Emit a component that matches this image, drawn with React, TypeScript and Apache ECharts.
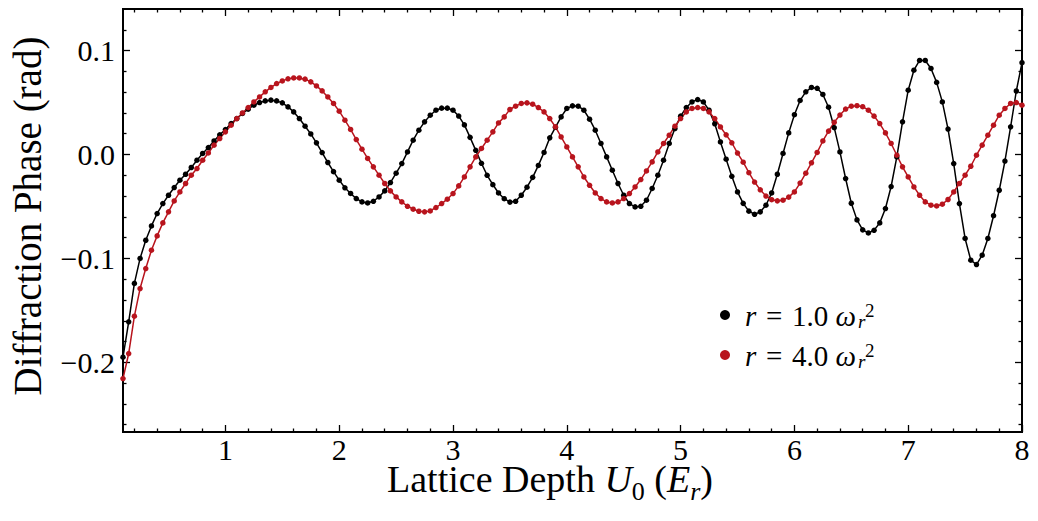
import { useEffect, useRef } from "react";
import * as echarts from "echarts";

// Lattice depth U0 (in units of E_r), sampled every 0.05
const depth = [
  0.1, 0.15, 0.2, 0.25, 0.3, 0.35, 0.4, 0.45, 0.5, 0.55,
  0.6, 0.65, 0.7, 0.75, 0.8, 0.85, 0.9, 0.95, 1.0, 1.05,
  1.1, 1.15, 1.2, 1.25, 1.3, 1.35, 1.4, 1.45, 1.5, 1.55,
  1.6, 1.65, 1.7, 1.75, 1.8, 1.85, 1.9, 1.95, 2.0, 2.05,
  2.1, 2.15, 2.2, 2.25, 2.3, 2.35, 2.4, 2.45, 2.5, 2.55,
  2.6, 2.65, 2.7, 2.75, 2.8, 2.85, 2.9, 2.95, 3.0, 3.05,
  3.1, 3.15, 3.2, 3.25, 3.3, 3.35, 3.4, 3.45, 3.5, 3.55,
  3.6, 3.65, 3.7, 3.75, 3.8, 3.85, 3.9, 3.95, 4.0, 4.05,
  4.1, 4.15, 4.2, 4.25, 4.3, 4.35, 4.4, 4.45, 4.5, 4.55,
  4.6, 4.65, 4.7, 4.75, 4.8, 4.85, 4.9, 4.95, 5.0, 5.05,
  5.1, 5.15, 5.2, 5.25, 5.3, 5.35, 5.4, 5.45, 5.5, 5.55,
  5.6, 5.65, 5.7, 5.75, 5.8, 5.85, 5.9, 5.95, 6.0, 6.05,
  6.1, 6.15, 6.2, 6.25, 6.3, 6.35, 6.4, 6.45, 6.5, 6.55,
  6.6, 6.65, 6.7, 6.75, 6.8, 6.85, 6.9, 6.95, 7.0, 7.05,
  7.1, 7.15, 7.2, 7.25, 7.3, 7.35, 7.4, 7.45, 7.5, 7.55,
  7.6, 7.65, 7.7, 7.75, 7.8, 7.85, 7.9, 7.95, 8.0,
];

// Diffraction phase (rad) for r = 1.0 ω_r²
const phaseR1 = [
  -0.195, -0.161, -0.124, -0.1, -0.0825, -0.0687, -0.0568, -0.0472, -0.0392, -0.0318,
  -0.0247, -0.019, -0.0125, -0.0055, 0.001, 0.0067, 0.013, 0.0189, 0.024, 0.0298,
  0.0346, 0.0395, 0.0436, 0.0474, 0.05, 0.0516, 0.0523, 0.0516, 0.0497, 0.0458,
  0.041, 0.0346, 0.0272, 0.0198, 0.0112, 0.0019, -0.0077, -0.0165, -0.0247, -0.032,
  -0.0375, -0.0424, -0.0456, -0.0466, -0.045, -0.0408, -0.035, -0.027, -0.018, -0.0087,
  0.0025, 0.0138, 0.0234, 0.0314, 0.0378, 0.0426, 0.0446, 0.0446, 0.0426, 0.037,
  0.0285, 0.0165, 0.004, -0.0085, -0.02, -0.029, -0.037, -0.0425, -0.0458, -0.045,
  -0.0392, -0.0315, -0.022, -0.0105, 0.002, 0.016, 0.0262, 0.0362, 0.0443, 0.0468,
  0.0465, 0.0426, 0.034, 0.0234, 0.0106, -0.0023, -0.0151, -0.0279, -0.0392, -0.0472,
  -0.0504, -0.0498, -0.044, -0.0327, -0.0199, -0.0055, 0.0106, 0.025, 0.0369, 0.0452,
  0.0506, 0.0529, 0.0506, 0.0426, 0.0295, 0.0121, -0.0045, -0.021, -0.036, -0.047,
  -0.0545, -0.0575, -0.0552, -0.0488, -0.037, -0.019, 0.001, 0.0208, 0.0383, 0.052,
  0.0603, 0.0645, 0.0637, 0.0578, 0.0455, 0.0258, 0.0025, -0.0231, -0.0469, -0.0629,
  -0.0725, -0.0755, -0.0729, -0.0658, -0.052, -0.0308, -0.0023, 0.0314, 0.0619, 0.0811,
  0.0905, 0.0905, 0.0828, 0.0694, 0.0506, 0.0245, -0.0087, -0.0472, -0.0808, -0.1017,
  -0.1059, -0.0969, -0.0808, -0.0589, -0.0344, -0.0063, 0.0266, 0.0611, 0.0884,
];

// Diffraction phase (rad) for r = 4.0 ω_r²
const phaseR4 = [
  -0.2156, -0.1915, -0.1556, -0.129, -0.1097, -0.0921, -0.0783, -0.0658, -0.0552, -0.0447,
  -0.036, -0.0279, -0.0199, -0.0135, -0.0055, 0.0015, 0.009, 0.0154, 0.0218, 0.0282,
  0.0346, 0.04, 0.0452, 0.0506, 0.0554, 0.0603, 0.0645, 0.0683, 0.0708, 0.0728,
  0.0737, 0.0737, 0.0725, 0.0699, 0.066, 0.0612, 0.0554, 0.0491, 0.0417, 0.033,
  0.0241, 0.0144, 0.0051, -0.0038, -0.0119, -0.0199, -0.0279, -0.035, -0.0408, -0.0456,
  -0.0498, -0.0526, -0.0546, -0.0552, -0.0543, -0.051, -0.0472, -0.043, -0.0376, -0.0302,
  -0.0216, -0.0119, -0.0023, 0.0058, 0.0138, 0.0218, 0.0304, 0.0362, 0.0433, 0.0465,
  0.0491, 0.0497, 0.0484, 0.0452, 0.041, 0.0346, 0.0266, 0.0169, 0.0073, -0.0023,
  -0.0119, -0.0216, -0.0296, -0.037, -0.0424, -0.0456, -0.0466, -0.0456, -0.0424, -0.0376,
  -0.0312, -0.0241, -0.0158, -0.0071, 0.0025, 0.0106, 0.0186, 0.0272, 0.0346, 0.041,
  0.0443, 0.0452, 0.0443, 0.041, 0.0346, 0.0265, 0.0189, 0.0113, 0.0014, -0.0074,
  -0.0175, -0.0265, -0.034, -0.04, -0.0435, -0.0446, -0.044, -0.041, -0.036, -0.0275,
  -0.018, -0.008, 0.002, 0.013, 0.0225, 0.031, 0.038, 0.0437, 0.0465, 0.047,
  0.046, 0.0426, 0.0369, 0.0298, 0.0208, 0.0106, -0.0007, -0.0119, -0.0216, -0.0312,
  -0.0392, -0.0456, -0.0488, -0.0495, -0.0478, -0.0433, -0.036, -0.0279, -0.0199, -0.0113,
  -0.0007, 0.009, 0.0186, 0.0282, 0.0378, 0.0443, 0.0491, 0.05, 0.0474,
];

const rateLabels = ["1.0", "4.0"];
const seriesColors = ["#000000", "#b8141d"];

const xMajorTicks = [1, 2, 3, 4, 5, 6, 7, 8];
const xMinorTicks = [
  0.2, 0.4, 0.6, 0.8, 1.2, 1.4, 1.6, 1.8, 2.2, 2.4, 2.6, 2.8, 3.2, 3.4, 3.6, 3.8,
  4.2, 4.4, 4.6, 4.8, 5.2, 5.4, 5.6, 5.8, 6.2, 6.4, 6.6, 6.8, 7.2, 7.4, 7.6, 7.8,
];
const yMajorTicks = [-0.2, -0.1, 0, 0.1];
const yMinorTicks = [
  -0.26, -0.24, -0.22, -0.18, -0.16, -0.14, -0.12, -0.08, -0.06, -0.04, -0.02,
  0.02, 0.04, 0.06, 0.08, 0.12,
];

const X_MIN = 0.1;
const X_MAX = 8;
const Y_MIN = -0.267;
const Y_MAX = 0.14;

const FAMILY = "Liberation Serif";
const SERIF = "'Liberation Serif', 'Times New Roman', serif";
const tickLine = { color: "#000", width: 1.3 };
// distance from the alphabetic baseline up to the SVG "central" baseline, in em
const CENTRAL = 0.3375;

function tickAxis(
  position: string,
  min: number,
  max: number,
  values: number[],
  length: number,
  label?: any
) {
  return {
    type: "value",
    position,
    min,
    max,
    axisLine: { show: false, onZero: false },
    splitLine: { show: false },
    axisTick: { show: true, inside: true, length, lineStyle: tickLine, customValues: values },
    axisLabel: label
      ? { show: true, customValues: values, ...label }
      : { show: false },
  };
}

const formatPhase = (v: number) =>
  v === 0 ? "0.0" : (v < 0 ? "\u2212" : "") + Math.abs(v).toFixed(1);

const alignStyle = (h: string, v: string) => ({
  align: h,
  verticalAlign: v,
  textAlign: h,
  textVerticalAlign: v,
});

type Piece = { text: string; size: number; italic?: boolean; drop?: number };

// Lays out a run of differently sized pieces on one baseline, centred at cx.
function mathLine(pieces: Piece[], cx: number, baseline: number) {
  const ctx = document.createElement("canvas").getContext("2d")!;
  const widths = pieces.map((p) => {
    ctx.font = `${p.italic ? "italic " : ""}${p.size}px "${FAMILY}"`;
    return ctx.measureText(p.text).width;
  });
  const total = widths.reduce((a, b) => a + b, 0);
  let x = cx - total / 2;
  return pieces.map((p, k) => {
    const el = {
      type: "text",
      x,
      y: baseline + (p.drop || 0) - CENTRAL * p.size,
      style: {
        text: p.text,
        fontFamily: SERIF,
        fontSize: p.size,
        fontStyle: p.italic ? "italic" : "normal",
        lineHeight: p.size * 0.8,
        fill: "#000",
        ...alignStyle("left", "middle"),
      },
    };
    x += widths[k];
    return el;
  });
}

export default function App() {
  const ref = useRef<HTMLDivElement>(null);

  useEffect(() => {
    const chart = echarts.init(ref.current!, null, { renderer: "svg" });

    const labelStyle = { fontFamily: SERIF, fontSize: 30, color: "#000" };

    const legendGraphics: any[] = [];
    rateLabels.forEach((rate, i) => {
      const cy = 315 + i * 40;
      const base = cy + 11;
      legendGraphics.push(
        {
          type: "circle",
          shape: { cx: 725, cy, r: 5 },
          style: { fill: seriesColors[i] },
        },
        {
          type: "text",
          x: 856,
          y: base - CENTRAL * 29,
          style: {
            text: `{i|r}\u2004=\u2004${rate} {i|\u03c9}`,
            fontFamily: SERIF,
            fontSize: 29,
            lineHeight: 26,
            fill: "#000",
            ...alignStyle("right", "middle"),
            rich: { i: { fontFamily: SERIF, fontSize: 29, fontStyle: "italic", lineHeight: 26 } },
          },
        },
        {
          type: "text",
          x: 858,
          y: base + 2 - CENTRAL * 19,
          style: {
            text: "r",
            fontFamily: SERIF,
            fontSize: 19,
            fontStyle: "italic",
            lineHeight: 10,
            fill: "#000",
            ...alignStyle("left", "middle"),
          },
        },
        {
          type: "text",
          x: 865,
          y: base - 9 - CENTRAL * 19,
          style: {
            text: "2",
            fontFamily: SERIF,
            fontSize: 19,
            lineHeight: 10,
            fill: "#000",
            ...alignStyle("left", "middle"),
          },
        }
      );
    });

    const xTitle = mathLine(
      [
        { text: "Lattice Depth ", size: 38 },
        { text: "U", size: 38, italic: true },
        { text: "0", size: 26, drop: 8 },
        { text: " (", size: 38 },
        { text: "E", size: 38, italic: true },
        { text: "r", size: 26, italic: true, drop: 8 },
        { text: ")", size: 38 },
      ],
      550,
      492
    );

    const option: any = {
      animation: false,
      backgroundColor: "#fff",
      grid: {
        left: 123,
        right: 16,
        top: 9,
        bottom: 89,
        show: true,
        borderColor: "#000",
        borderWidth: 2,
        backgroundColor: "transparent",
      },
      xAxis: [
        tickAxis("bottom", X_MIN, X_MAX, xMajorTicks, 7, {
          ...labelStyle,
          margin: 5,
          lineHeight: 24,
          formatter: (v: number) => String(v),
        }),
        tickAxis("bottom", X_MIN, X_MAX, xMinorTicks, 3.5),
        tickAxis("top", X_MIN, X_MAX, xMajorTicks, 7),
        tickAxis("top", X_MIN, X_MAX, xMinorTicks, 3.5),
      ],
      yAxis: [
        tickAxis("left", Y_MIN, Y_MAX, yMajorTicks, 7, {
          ...labelStyle,
          margin: 8,
          formatter: formatPhase,
        }),
        tickAxis("left", Y_MIN, Y_MAX, yMinorTicks, 3.5),
        tickAxis("right", Y_MIN, Y_MAX, yMajorTicks, 7),
        tickAxis("right", Y_MIN, Y_MAX, yMinorTicks, 3.5),
      ],
      series: [phaseR1, phaseR4].map((vals, i) => ({
        type: "line",
        name: `r = ${rateLabels[i]}`,
        xAxisIndex: 0,
        yAxisIndex: 0,
        data: depth.map((u, k) => [u, vals[k]]),
        symbol: "circle",
        symbolSize: 5.5,
        showSymbol: true,
        showAllSymbol: true,
        clip: true,
        itemStyle: { color: seriesColors[i] },
        lineStyle: { color: seriesColors[i], width: 1.5 },
        emphasis: { disabled: true },
      })),
      graphic: [
        {
          type: "text",
          x: 27,
          y: 216,
          rotation: Math.PI / 2,
          style: {
            text: "Diffraction Phase (rad)",
            fontFamily: SERIF,
            fontSize: 39,
            lineHeight: 36,
            fill: "#000",
            ...alignStyle("center", "middle"),
          },
        },
        ...xTitle,
        ...legendGraphics,
      ],
    };

    chart.setOption(option);
    return () => chart.dispose();
  }, []);

  return (
    <div
      ref={ref}
      style={{ position: "absolute", left: 0, top: 0, width: 1038, height: 521, background: "#fff" }}
    />
  );
}
